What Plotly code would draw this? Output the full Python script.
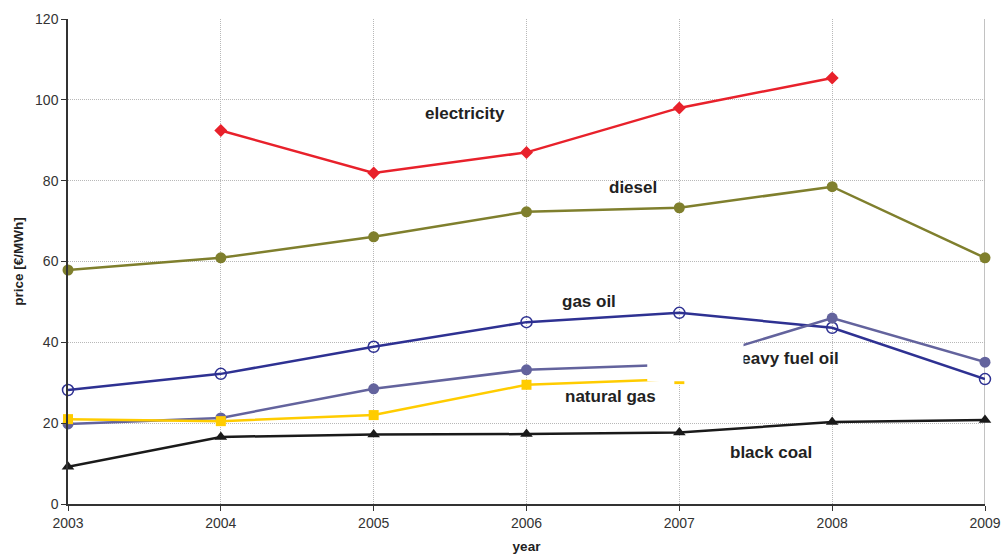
import plotly.graph_objects as go

years = [2003, 2004, 2005, 2006, 2007, 2008, 2009]

electricity = [None, 92.4, 81.9, 87.0, 98.0, 105.4, None]
diesel = [57.9, 60.9, 66.1, 72.3, 73.3, 78.5, 60.9]
gas_oil = [28.2, 32.2, 38.9, 45.0, 47.3, 43.6, 30.9]
heavy_fuel_oil = [19.8, 21.3, 28.5, 33.2, 34.5, 46.0, 35.1]
natural_gas = [21.0, 20.5, 22.0, 29.5, 30.9, None, None]
black_coal = [9.2, 16.6, 17.2, 17.3, 17.7, 20.3, 20.8]

y_ticks = [0, 20, 40, 60, 80, 100, 120]

series = [
    ("electricity", electricity, "#e8212b", dict(symbol="diamond", size=10)),
    ("diesel", diesel, "#7f7f2d", dict(symbol="circle", size=11)),
    ("gas oil", gas_oil, "#2e3192",
     dict(symbol="circle-open", size=11, line=dict(width=1.5, color="#2e3192"))),
    ("heavy fuel oil", heavy_fuel_oil, "#63639d", dict(symbol="circle", size=11)),
    ("natural gas", natural_gas, "#ffcc00", dict(symbol="square", size=10)),
    ("black coal", black_coal, "#1a1a1a", dict(symbol="triangle-up", size=11)),
]

fig = go.Figure()
for name, vals, color, marker in series:
    m = dict(color=color)
    m.update(marker)
    fig.add_trace(go.Scatter(
        x=years, y=vals, name=name, mode="lines+markers",
        line=dict(color=color, width=2.5), marker=m,
        connectgaps=False, showlegend=False, cliponaxis=False,
    ))

label_font = dict(family="Liberation Sans, Arial, sans-serif", size=17, color="#222222")

# series labels placed beside their lines
labels = [
    ("<b>electricity</b>", 2005.6, 96.6),
    ("<b>diesel</b>", 2006.7, 78.2),
    ("<b>gas oil</b>", 2006.41, 50.0),
    ("<b>natural gas</b>", 2006.55, 26.5),
    ("<b>black coal</b>", 2007.6, 12.7),
]
for text, x, y in labels:
    fig.add_annotation(x=x, y=y, text=text, showarrow=False, font=label_font,
                       xanchor="center", yanchor="middle")

# this label sits under the white box, so it is drawn as a trace
fig.add_trace(go.Scatter(
    x=[2007.69], y=[35.8], mode="text", text=["<b>heavy fuel oil</b>"],
    textfont=label_font, textposition="middle center", showlegend=False,
    hoverinfo="skip",
))

# white label box that covers part of the lines around 2007
fig.add_shape(type="rect", xref="x", yref="y", x0=2006.79, x1=2007.42,
              y0=30.4, y1=39.9, fillcolor="white", line=dict(width=0),
              layer="above")

# darker right-hand border of the plot area
fig.add_shape(type="line", xref="x", yref="y", x0=2009, x1=2009, y0=0, y1=120,
              line=dict(color="#9a9a9a", width=1.2), layer="below")

tick_font = dict(family="Liberation Sans, Arial, sans-serif", size=14, color="#333333")
title_font = dict(family="Liberation Sans, Arial, sans-serif", size=13.5, color="#222222")

grid = dict(showgrid=True, gridcolor="#b8b8b8", griddash="1px,1px", gridwidth=1)

fig.update_xaxes(
    range=[2003, 2009], tickmode="array", tickvals=years,
    ticktext=[str(y) for y in years], tickfont=tick_font, **grid,
    showline=True, linecolor="#333333", linewidth=1.5, automargin=False,
    ticks="outside", ticklen=5, tickcolor="#333333", zeroline=False,
    title=dict(text="<b>year</b>", font=title_font, standoff=12),
)
fig.update_yaxes(
    range=[0, 120], tickmode="array", tickvals=y_ticks,
    ticktext=[str(v) for v in y_ticks], tickfont=tick_font, **grid,
    showline=True, linecolor="#333333", linewidth=1.5, automargin=False,
    ticks="outside", ticklen=5, tickcolor="#333333", zeroline=False,
    title=dict(text="<b>price [€/MWh]</b>", font=title_font, standoff=8),
)

fig.update_layout(
    width=1007, height=556,
    margin=dict(l=68, r=22, t=19, b=52),
    plot_bgcolor="white", paper_bgcolor="white",
)

fig.write_html("out.html")
